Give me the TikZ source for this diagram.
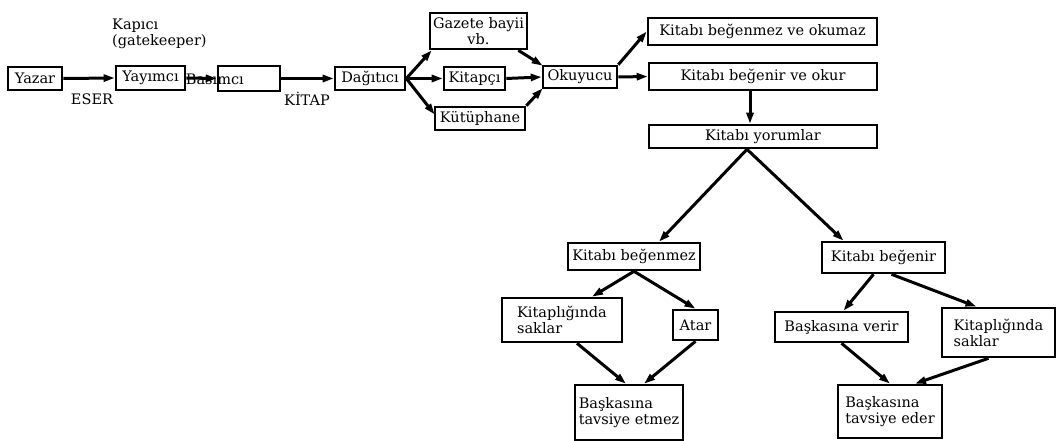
\documentclass[tikz,border=0pt]{standalone}
\usepackage{fontspec}
\setmainfont{DejaVu Serif}
\usetikzlibrary{arrows.meta,calc}
\begin{document}
\begin{tikzpicture}[x=1pt,y=-1pt,
  box/.style={draw,line width=2.6pt,inner sep=1.5pt,font=\fontsize{14.5}{16}\selectfont},
  lbl/.style={inner sep=0pt,font=\fontsize{14.5}{16}\selectfont},
  arr/.style={line width=3pt,-{Triangle[length=11pt,width=7pt]}}]
\useasboundingbox (0,0) rectangle (1060,441);
\fill[white] (0,0) rectangle (1060,441);
% top row
\node[box,minimum width=54pt,minimum height=23pt] (yazar) at (35,78.5) {Yazar};
\node[box,minimum width=69pt,minimum height=24pt] (yay) at (150.5,78) {Yayımcı};
\node[box,minimum width=62pt,minimum height=25pt] (bas) at (249,78.5) {};
\node[lbl,anchor=east] (bastxt) at (244,79) {Basımcı};
\node[box,minimum width=70pt,minimum height=23pt] (dag) at (370,78.5) {Dağıtıcı};
\node[box,minimum width=97pt,minimum height=36pt,align=center] (gaz) at (478.5,31) {Gazete bayii\\vb.};
\node[box,minimum width=61pt,minimum height=23pt] (kitapci) at (474.5,78.5) {Kitapçı};
\node[box,minimum width=90pt,minimum height=23pt] (kut) at (480,118.5) {Kütüphane};
\node[box,minimum width=74pt,minimum height=22pt] (oku) at (580,77) {Okuyucu};
\node[box,minimum width=229pt,minimum height=27pt] (k1) at (762.5,31.5) {Kitabı beğenmez ve okumaz};
\node[box,minimum width=228pt,minimum height=27pt] (k2) at (763,76.5) {Kitabı beğenir ve okur};
\node[box,minimum width=228pt,minimum height=23pt] (k3) at (763,136.5) {Kitabı yorumlar};
% labels
\node[lbl,anchor=north west,align=left] (kapici) at (112,19) {Kapıcı\\(gatekeeper)};
\node[lbl] (eser) at (92,99) {ESER};
\node[lbl] (kitap) at (307,99) {KİTAP};
% lower left
\node[box,minimum width=132pt,minimum height=27pt] (kbm) at (634,256.5) {Kitabı beğenmez};
\node[box,minimum width=120pt,minimum height=44pt,align=left] (ks1) at (562,320) {Kitaplığında\\saklar};
\node[box,minimum width=45pt,minimum height=30pt] (atar) at (695.5,325) {Atar};
\node[box,minimum width=108pt,minimum height=55pt,align=left] (bte) at (629,412.5) {Başkasına\\tavsiye etmez};
% lower right
\node[box,minimum width=123pt,minimum height=31pt] (kb) at (883.5,257.5) {Kitabı beğenir};
\node[box,minimum width=133pt,minimum height=30pt] (bv) at (841.5,327) {Başkasına verir};
\node[box,minimum width=113pt,minimum height=49pt,align=left] (ks2) at (998.5,332.5) {Kitaplığında\\saklar};
\node[box,minimum width=104pt,minimum height=53pt,align=left] (bted) at (890,411.5) {Başkasına\\tavsiye eder};
% arrows
\draw[arr] (yazar.east) -- (yay.west);
\draw[arr] (yay.east) -- (bas.west);
\draw[arr] (bas.east) -- (dag.west);
\draw[arr] (dag.east) -- ($(gaz.south west)+(3,0)$);
\draw[arr] (dag.east) -- (kitapci.west);
\draw[arr] (dag.east) -- ($(kut.west)+(1,-4)$);
\draw[arr] ($(gaz.south east)+(-10,0)$) -- ($(oku.north west)+(1,1)$);
\draw[arr] (kitapci.east) -- (oku.west);
\draw[arr] (kut.north east) -- ($(oku.south west)+(1,-1)$);
\draw[arr] (oku.north east) -- (k1.west);
\draw[arr] (oku.east) -- (k2.west);
\draw[arr] ($(k2.south)+(-13,0)$) -- ($(k3.north)+(-13,0)$);
\draw[arr] ($(k3.south)+(-16,0)$) -- ($(kbm.north)+(25,0)$);
\draw[arr] ($(k3.south)+(-16,0)$) -- ($(kb.north)+(-40,0)$);
\draw[arr] (kbm.south) -- ($(ks1.north)+(30,0)$);
\draw[arr] (kbm.south) -- (atar.north);
\draw[arr] ($(ks1.south)+(15,0)$) -- ($(bte.north)+(-3,0)$);
\draw[arr] (atar.south) -- ($(bte.north)+(15,0)$);
\draw[arr] ($(kb.south)+(-10,0)$) -- ($(bv.north)+(2,0)$);
\draw[arr] ($(kb.south)+(8,0)$) -- ($(ks2.north)+(-22,0)$);
\draw[arr] (bv.south) -- (bted.north);
\draw[arr] ($(ks2.south)+(-10,0)$) -- ($(bted.north)+(25,0)$);
\end{tikzpicture}
\end{document}
